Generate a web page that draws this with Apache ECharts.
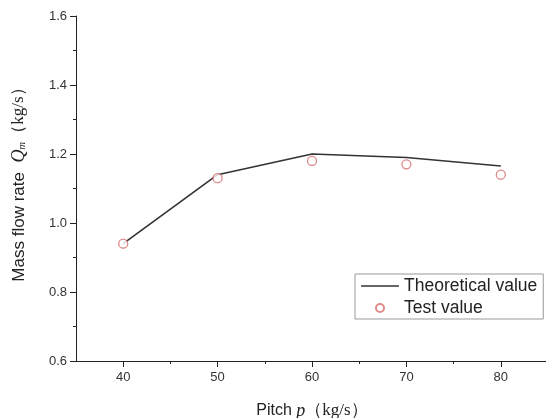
<!DOCTYPE html>
<html>
<head>
<meta charset="utf-8">
<script src="https://cdn.jsdelivr.net/npm/echarts@6/dist/echarts.min.js"></script>
<style>
  html, body { margin: 0; padding: 0; background: #fff; }
  #chart { width: 546px; height: 418px; }
</style>
</head>
<body>
<div id="chart"></div>
<script>
// Pitch values (x) and mass flow rates (kg/s)
const pitch = [40, 50, 60, 70, 80];
const theoretical = [0.94, 1.14, 1.20, 1.19, 1.165];
const measured = [0.94, 1.13, 1.18, 1.17, 1.14];
const xTicks = [40, 50, 60, 70, 80];
const xMinorTicks = [45, 55, 65, 75];

const toPairs = (xs, ys) => xs.map((x, i) => [x, ys[i]]);

const chart = echarts.init(document.getElementById('chart'));
const axisColor = '#222';
const labelColor = '#333';

chart.setOption({
  animation: false,
  backgroundColor: '#fff',
  grid: { left: 76, right: -2, top: 16, bottom: 57, containLabel: false, outerBoundsMode: 'none' },
  xAxis: [
    {
      type: 'value',
      min: 35, max: 85,
      name: '{a|Pitch }{p|p}{b|（kg/s）}',
      nameLocation: 'middle',
      nameGap: 41,
      nameTextStyle: {
        rich: {
          a: { fontFamily: 'Liberation Sans, Arial', fontSize: 16, color: '#222' },
          p: { fontFamily: 'Liberation Serif, serif', fontStyle: 'italic', fontSize: 18, color: '#222' },
          b: { fontFamily: 'Liberation Serif, serif', fontSize: 17, color: '#222' }
        }
      },
      axisLine: { lineStyle: { color: axisColor, width: 1 } },
      axisTick: { show: true, inside: false, length: 6, customValues: xTicks, lineStyle: { color: axisColor } },
      splitLine: { show: false },
      axisLabel: {
        color: labelColor, fontFamily: 'Liberation Sans, Arial', fontSize: 13, margin: 10,
        customValues: xTicks
      }
    },
    {
      // minor ticks between the labelled pitch values
      type: 'value',
      position: 'bottom',
      min: 35, max: 85,
      axisLine: { show: false },
      axisTick: { show: true, inside: false, length: 3, customValues: xMinorTicks, lineStyle: { color: axisColor } },
      axisLabel: { show: false },
      splitLine: { show: false }
    }
  ],
  yAxis: {
    type: 'value',
    min: 0.6, max: 1.6, interval: 0.2,
    name: '{a|Mass flow rate  }{q|Q}{s|m}{b|（kg/s）}',
    nameLocation: 'middle',
    nameRotate: 90,
    nameGap: 48,
    nameTextStyle: {
      padding: [0, 0, 0, 16],
      rich: {
        a: { fontFamily: 'Liberation Sans, Arial', fontSize: 17, color: '#222' },
        q: { fontFamily: 'Liberation Serif, serif', fontStyle: 'italic', fontSize: 18, color: '#222' },
        s: { fontFamily: 'Liberation Serif, serif', fontStyle: 'italic', fontSize: 11, color: '#222', verticalAlign: 'bottom', padding: [7, 0, 0, 0] },
        b: { fontFamily: 'Liberation Serif, serif', fontSize: 17, color: '#222' }
      }
    },
    axisLine: { show: true, lineStyle: { color: axisColor, width: 1 } },
    axisTick: { show: true, inside: false, length: 6, lineStyle: { color: axisColor } },
    minorTick: { show: true, splitNumber: 2, length: 3, lineStyle: { color: axisColor } },
    splitLine: { show: false },
    minorSplitLine: { show: false },
    axisLabel: {
      color: labelColor, fontFamily: 'Liberation Sans, Arial', fontSize: 13, margin: 9,
      formatter: v => v.toFixed(1)
    }
  },
  legend: {
    orient: 'vertical',
    left: 355, top: 274,
    backgroundColor: '#fff',
    borderColor: '#999',
    borderWidth: 1,
    padding: [3, 6, 2, 6],
    itemGap: 4,
    itemWidth: 38,
    itemHeight: 8,
    textStyle: { fontFamily: 'Liberation Sans, Arial', fontSize: 17.5, color: '#222' },
    data: [
      { name: 'Theoretical value', icon: 'path://M0,0 L38,0 L38,1.6 L0,1.6 Z', itemStyle: { color: '#333' } },
      { name: 'Test value', icon: 'circle' }
    ]
  },
  series: [
    {
      name: 'Theoretical value',
      type: 'line',
      data: toPairs(pitch, theoretical),
      symbol: 'none',
      lineStyle: { color: '#333', width: 1.6 },
      itemStyle: { color: '#333' },
      z: 2
    },
    {
      name: 'Test value',
      type: 'scatter',
      data: toPairs(pitch, measured),
      symbol: 'circle',
      symbolSize: 9,
      itemStyle: { color: '#fff', borderColor: '#d56b6b', borderWidth: 1.3 },
      z: 3
    }
  ]
});
</script>
</body>
</html>
